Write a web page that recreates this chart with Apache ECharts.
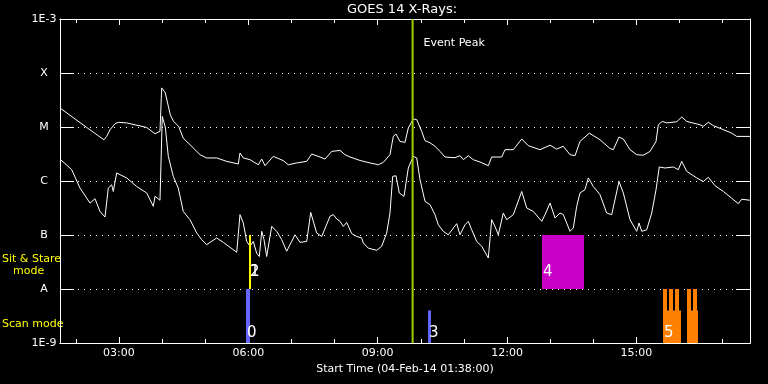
<!DOCTYPE html>
<html><head><meta charset="utf-8">
<script src="https://cdn.jsdelivr.net/npm/echarts@6/dist/echarts.min.js"></script>
<style>html,body{margin:0;padding:0;background:#000;}#c{width:768px;height:384px;}</style>
</head><body><div id="c"></div>
<script>
// ---- data ----
const startHour = 1 + 38 / 60;          // 01:38
const spanHours = 16;
const xLabelHours = [3, 6, 9, 12, 15];
const xMinorHours = [2, 4, 5, 7, 8, 10, 11, 13, 14, 16, 17];
const yTickLabels = ['1E-9', 'A', 'B', 'C', 'M', 'X', '1E-3'];
const eventPeakHour = 9.81;

const longTime = [1.633,2.252,2.653,2.716,2.793,2.909,2.985,3.180,3.644,3.836,3.952,3.975,3.991,4.074,4.190,4.267,4.383,4.492,4.648,4.880,5.035,5.267,5.499,5.768,5.807,5.884,6.039,6.232,6.311,6.387,6.580,6.811,6.927,7.122,7.354,7.470,7.662,7.778,7.934,8.126,8.242,8.358,8.590,8.822,9.014,9.130,9.285,9.362,9.424,9.517,9.633,9.710,9.826,9.905,10.021,10.097,10.213,10.329,10.445,10.561,10.793,10.909,10.986,11.102,11.217,11.372,11.565,11.644,11.876,11.952,12.145,12.340,12.493,12.764,12.996,13.151,13.304,13.460,13.576,13.691,13.907,14.155,14.387,14.464,14.596,14.696,14.851,15.006,15.159,15.315,15.454,15.507,15.600,15.702,15.934,16.050,16.166,16.474,16.551,16.667,16.782,16.977,17.209,17.325,17.633];
const longFlux = [2.25e-5,9.8e-6,5.8e-6,6.7e-6,8.9e-6,1.15e-5,1.22e-5,1.19e-5,9.8e-6,7.5e-6,8.3e-6,8.4e-6,5.3e-5,4.3e-5,1.69e-5,1.27e-5,1.03e-5,6.2e-6,4.7e-6,3.07e-6,2.67e-6,2.67e-6,2.31e-6,2.07e-6,3.3e-6,2.67e-6,2.48e-6,2.0e-6,2.55e-6,1.92e-6,2.86e-6,2.38e-6,2.0e-6,2.16e-6,2.31e-6,3.16e-6,2.78e-6,2.55e-6,3.53e-6,3.69e-6,3.07e-6,2.78e-6,2.4e-6,2.16e-6,2.0e-6,2.21e-6,3.07e-6,6.7e-6,7.4e-6,5.4e-6,5.2e-6,9.6e-6,1.41e-5,1.37e-5,8.3e-6,5.6e-6,5.1e-6,4.4e-6,3.53e-6,2.78e-6,2.7e-6,2.94e-6,2.48e-6,2.94e-6,2.48e-6,2.25e-6,1.92e-6,2.78e-6,2.78e-6,3.8e-6,3.8e-6,6.0e-6,4.5e-6,3.8e-6,4.6e-6,3.9e-6,4.4e-6,3.07e-6,2.94e-6,5.4e-6,7.7e-6,5.8e-6,4.0e-6,3.8e-6,6.5e-6,6.0e-6,3.8e-6,3.07e-6,3.0e-6,3.53e-6,5.4e-6,1.1e-5,1.27e-5,1.19e-5,1.25e-5,1.53e-5,1.27e-5,1.1e-5,1.03e-5,1.22e-5,1.06e-5,9.2e-6,7.7e-6,6.7e-6,6.7e-6];

const shortTime = [1.633,1.905,2.097,2.329,2.445,2.561,2.677,2.753,2.832,2.869,2.948,3.025,3.180,3.412,3.644,3.797,3.836,3.952,3.975,4.005,4.074,4.145,4.260,4.376,4.492,4.648,4.803,4.919,5.035,5.112,5.267,5.420,5.731,5.807,5.884,5.962,6.039,6.116,6.194,6.255,6.311,6.364,6.426,6.542,6.658,6.774,6.890,7.083,7.198,7.354,7.447,7.586,7.702,7.894,7.971,8.050,8.126,8.203,8.282,8.398,8.514,8.630,8.667,8.783,8.978,9.093,9.209,9.285,9.348,9.424,9.501,9.610,9.710,9.826,9.905,9.981,10.097,10.213,10.329,10.405,10.521,10.637,10.832,10.909,11.025,11.102,11.180,11.296,11.412,11.565,11.644,11.720,11.797,11.913,11.992,12.145,12.340,12.456,12.609,12.804,12.880,12.996,13.112,13.228,13.304,13.460,13.536,13.615,13.691,13.807,13.884,14.000,14.155,14.310,14.426,14.596,14.696,14.851,15.006,15.060,15.122,15.238,15.354,15.454,15.530,15.662,15.855,15.971,16.050,16.166,16.398,16.551,16.667,16.822,17.015,17.209,17.362,17.441,17.633];
const shortFlux = [2.55e-6,1.62e-6,7.4e-7,3.9e-7,4.7e-7,2.73e-7,2.15e-7,7.4e-7,8.5e-7,6.4e-7,1.41e-6,1.31e-6,1.14e-6,7.9e-7,6.0e-7,3.4e-7,5.2e-7,4.4e-7,4.5e-7,1.57e-5,1.0e-5,2.86e-6,1.22e-6,7.4e-7,2.73e-7,1.92e-7,1.09e-7,8.2e-8,6.6e-8,7.3e-8,8.8e-8,7.3e-8,4.8e-8,2.38e-7,1.67e-7,7.6e-8,6.2e-8,7.6e-8,4.6e-8,4.0e-8,1.17e-7,8.2e-8,4.0e-8,1.44e-7,1.17e-7,8.2e-8,5.0e-8,1.01e-7,7.3e-8,7.6e-8,2.62e-7,1.09e-7,9.4e-8,2.21e-7,2.38e-7,1.98e-7,1.79e-7,1.44e-7,1.71e-7,1.06e-7,9.4e-8,8.8e-8,7.1e-8,5.7e-8,5.2e-8,6.2e-8,1.09e-7,2.55e-7,1.22e-6,1.25e-6,6.0e-7,5.2e-7,1.74e-6,2.86e-6,2.67e-6,1.06e-6,4.2e-7,3.64e-7,2.38e-7,1.55e-7,1.17e-7,1.01e-7,1.62e-7,1.01e-7,1.55e-7,1.79e-7,1.25e-7,7.6e-8,6.2e-8,3.75e-8,1.92e-7,1.44e-7,1.01e-7,2.55e-7,1.92e-7,2.38e-7,6.4e-7,3.16e-7,2.73e-7,1.79e-7,2.38e-7,3.9e-7,2.07e-7,2.55e-7,2.38e-7,1.17e-7,1.35e-7,3.4e-7,6.0e-7,6.9e-7,1.14e-6,7.9e-7,5.6e-7,2.55e-7,2.38e-7,9.8e-7,6.0e-7,1.92e-7,1.17e-7,1.67e-7,1.17e-7,1.25e-7,2.55e-7,6.9e-7,1.82e-6,1.74e-6,1.82e-6,1.62e-6,2.31e-6,1.51e-6,1.14e-6,9.8e-7,1.17e-6,8.2e-7,6.4e-7,4.8e-7,3.8e-7,4.6e-7,4.4e-7];

// scan-mode observations (drawn from 1E-9 upward)
const scanObs   = [0, 3, 5, 5, 5, 5, 5, 5, 5];
const scanStart = [5.946, 10.167, 15.616, 16.173, 15.616, 15.755, 15.894, 16.173, 16.312];
const scanEnd   = [6.039, 10.236, 16.034, 16.427, 15.702, 15.841, 15.980, 16.258, 16.397];
const scanTop   = [1e-8, 4e-9, 4e-9, 4e-9, 1e-8, 1e-8, 1e-8, 1e-8, 1e-8];
const scanBase  = 1e-9;
// sit & stare observations (drawn between A and B)
const sitObs   = [1, 2, 4];
const sitStart = [6.016, 6.016, 12.810];
const sitEnd   = [6.062, 6.062, 13.777];
const sitLow   = 1e-8;
const sitTop   = 1e-7;

// ---- styles ----
const obsColors = {0: '#6464ff', 1: '#ffff00', 2: '#ffff00', 3: '#6464ff', 4: '#c800c8', 5: '#ff8000'};
const FONT = 'DejaVu Sans';

const rectData = [];
scanObs.forEach((o, i) => rectData.push([scanStart[i], scanEnd[i], scanBase, scanTop[i], o]));
sitObs.forEach((o, i) => rectData.push([sitStart[i], sitEnd[i], sitLow, sitTop, o]));

const labelData = [];
const seen = {};
scanObs.forEach((o, i) => { if (!seen[o]) { seen[o] = 1; labelData.push([scanStart[i], scanBase, o, 0]); } });
sitObs.forEach((o, i) => { if (!seen[o]) { seen[o] = 1; labelData.push([sitStart[i], sitLow, o, 1]); } });

const pad = n => (n < 10 ? '0' : '') + n;

const xCommon = {
  type: 'value', min: startHour, max: startHour + spanHours,
  splitLine: {show: false},
  axisLine: {lineStyle: {color: '#fff', width: 1}}
};
const tickStyle = {color: '#fff', width: 1};

const chart = echarts.init(document.getElementById('c'), null, {renderer: 'canvas'});
chart.setOption({
  backgroundColor: '#000',
  animation: false,
  textStyle: {fontFamily: FONT},
  grid: {left: 60, right: 18, top: 19, bottom: 41},
  xAxis: [
    Object.assign({}, xCommon, {
      position: 'bottom',
      axisTick: {inside: true, length: 6, customValues: xLabelHours, lineStyle: tickStyle},
      axisLabel: {customValues: xLabelHours, formatter: v => pad(v) + ':00', color: '#fff', fontSize: 11, margin: 5, fontFamily: FONT},
      name: 'Start Time (04-Feb-14 01:38:00)', nameLocation: 'middle', nameGap: 19,
      nameTextStyle: {color: '#fff', fontSize: 11, fontFamily: FONT}
    }),
    Object.assign({}, xCommon, {
      position: 'bottom',
      axisTick: {inside: true, length: 4, customValues: xMinorHours, lineStyle: tickStyle},
      axisLabel: {show: false}
    }),
    Object.assign({}, xCommon, {
      position: 'top',
      axisTick: {inside: true, length: 6, customValues: xLabelHours, lineStyle: tickStyle},
      axisLabel: {show: false}
    }),
    Object.assign({}, xCommon, {
      position: 'top',
      axisTick: {inside: true, length: 4, customValues: xMinorHours, lineStyle: tickStyle},
      axisLabel: {show: false}
    })
  ],
  yAxis: [
    {
      type: 'log', logBase: 10, min: 1e-9, max: 1e-3, position: 'left',
      axisLine: {show: true, lineStyle: {color: '#fff', width: 1}},
      axisTick: {show: true, inside: true, length: 14, lineStyle: tickStyle},
      axisLabel: {color: '#fff', fontSize: 11, fontFamily: FONT, align: 'center', margin: 16,
        formatter: v => yTickLabels[Math.round(Math.log10(v)) + 9]},
      splitLine: {show: true, lineStyle: {color: '#fff', type: [1, 5], width: 1}}
    },
    {
      type: 'log', logBase: 10, min: 1e-9, max: 1e-3, position: 'right',
      axisLine: {show: true, lineStyle: {color: '#fff', width: 1}},
      axisTick: {show: true, inside: true, length: 14, lineStyle: tickStyle},
      axisLabel: {show: false},
      splitLine: {show: false}
    }
  ],
  graphic: [
    {type: 'text', x: 402, y: 10, style: {text: 'GOES 14 X-Rays:', fill: '#fff', fontSize: 13, fontFamily: FONT, align: 'center', verticalAlign: 'middle'}},
    {type: 'text', x: 2, y: 259, style: {text: 'Sit & Stare', fill: '#ffff00', fontSize: 11, fontFamily: FONT, align: 'left', verticalAlign: 'middle'}},
    {type: 'text', x: 13, y: 271, style: {text: 'mode', fill: '#ffff00', fontSize: 11, fontFamily: FONT, align: 'left', verticalAlign: 'middle'}},
    {type: 'text', x: 2, y: 324, style: {text: 'Scan mode', fill: '#ffff00', fontSize: 11, fontFamily: FONT, align: 'left', verticalAlign: 'middle'}}
  ],
  series: [
    {
      type: 'line', xAxisIndex: 0, yAxisIndex: 0, showSymbol: false, symbol: 'none',
      lineStyle: {color: '#fff', width: 1}, z: 2,
      data: longTime.map((t, i) => [t, longFlux[i]])
    },
    {
      type: 'line', xAxisIndex: 0, yAxisIndex: 0, showSymbol: false, symbol: 'none',
      lineStyle: {color: '#fff', width: 1}, z: 2,
      data: shortTime.map((t, i) => [t, shortFlux[i]])
    },
    {
      type: 'custom', xAxisIndex: 0, yAxisIndex: 0, z: 3,
      data: rectData,
      renderItem: (params, api) => {
        const p0 = api.coord([api.value(0), api.value(2)]);
        const p1 = api.coord([api.value(1), api.value(3)]);
        const left = Math.round(p0[0]);
        const right = Math.max(Math.round(p1[0]), left + 1);
        return {type: 'rect', shape: {x: left, y: p1[1], width: right - left, height: p0[1] - p1[1]},
          style: {fill: obsColors[api.value(4)]}};
      }
    },
    {
      type: 'custom', xAxisIndex: 0, yAxisIndex: 0, z: 4,
      data: [[eventPeakHour]],
      renderItem: (params, api) => {
        const top = api.coord([api.value(0), 1e-3]);
        const bot = api.coord([api.value(0), 1e-9]);
        return {type: 'group', children: [
          {type: 'line', shape: {x1: top[0], y1: top[1], x2: bot[0], y2: bot[1]}, style: {stroke: '#a0d000', lineWidth: 2}},
          {type: 'text', x: top[0] + 11, y: top[1] + 24, style: {text: 'Event Peak', fill: '#fff', fontSize: 11, fontFamily: FONT, align: 'left', verticalAlign: 'middle'}}
        ]};
      }
    },
    {
      type: 'custom', xAxisIndex: 0, yAxisIndex: 0, z: 5,
      data: labelData,
      renderItem: (params, api) => {
        const p = api.coord([api.value(0), api.value(1)]);
        const off = api.value(3) ? 17 : 10;
        return {type: 'text', x: Math.round(p[0]) + 1, y: p[1] - off,
          style: {text: String(api.value(2)), fill: '#fff', fontSize: 15, fontFamily: FONT, align: 'left', verticalAlign: 'middle'}};
      }
    }
  ]
});
</script>
</body></html>
